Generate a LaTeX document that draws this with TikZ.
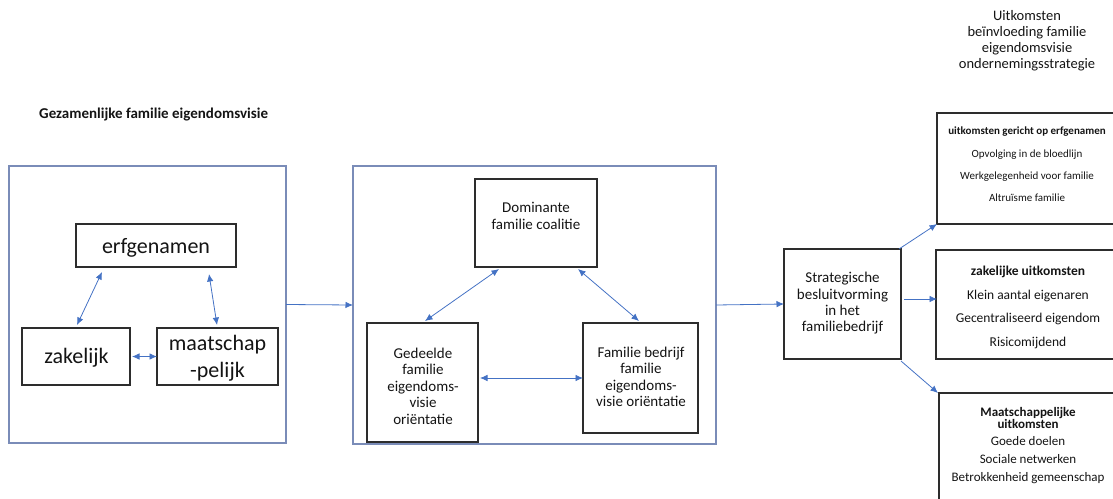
\documentclass[tikz,border=0pt]{standalone}
\usepackage{fontspec}
\setmainfont{Carlito}
\usetikzlibrary{calc,arrows.meta}
\definecolor{frameblue}{RGB}{122,140,184}
\definecolor{arrowblue}{RGB}{68,114,196}
\definecolor{boxline}{RGB}{45,45,45}
\definecolor{ink}{RGB}{20,20,20}
\tikzset{
  frame/.style={draw=frameblue, line width=1.3pt, inner sep=0pt, outer sep=0pt, anchor=north west},
  box/.style={draw=boxline, line width=1.1pt, inner sep=0pt, outer sep=0pt, anchor=north west},
  txt/.style={text=ink, inner sep=0pt, align=center},
  link/.style={draw=arrowblue, line width=0.8pt, -{Latex[length=7.5pt,width=6.5pt]}},
  twoway/.style={draw=arrowblue, line width=0.8pt, {Latex[length=7.5pt,width=6.5pt]}-{Latex[length=7.5pt,width=6.5pt]}},
}
\newcommand{\fs}[2]{\fontsize{#1}{#2}\selectfont}
\begin{document}
\begin{tikzpicture}[x=1pt,y=-1pt]
\useasboundingbox (0,0) rectangle (1113,498);
\clip (0,0) rectangle (1113,498);

% headings
\node[txt, font=\fs{14.5}{16}] (title) at (1027,41)
  {Uitkomsten\\beïnvloeding familie\\eigendomsvisie\\ondernemingsstrategie};
\node[txt, anchor=west, font=\bfseries\fs{15}{18}] (heading) at (39,115)
  {Gezamenlijke familie eigendomsvisie};

% left frame: joint family ownership vision
\node[frame, minimum width=277pt, minimum height=277pt] (lf) at (9,166) {};
\node[box, minimum width=160pt, minimum height=43pt] (erf) at (76,224) {};
\node[box, minimum width=108pt, minimum height=57pt] (zak) at (22,328) {};
\node[box, minimum width=121pt, minimum height=57pt] (maat) at (157,328) {};
\node[txt, font=\fs{22}{27}] (erft) at (156,248) {erfgenamen};
\node[txt, font=\fs{22}{27}] (zakt) at (76.5,358) {zakelijk};
\node[txt, font=\fs{22}{27}] (maatt) at (217.5,358.5) {maatschap\\-pelijk};

\draw[twoway] ($(erf.south west)+(26,5)$) -- ($(zak.north west)+(55,-3)$);
\draw[twoway] ($(erf.south west)+(133,7)$) -- ($(maat.north west)+(60,-3)$);
\draw[twoway] ($(zak.east)+(2,0)$) -- (maat.west);

% middle frame: orientations
\node[frame, minimum width=363pt, minimum height=278pt] (mf) at (353,166) {};
\node[box, minimum width=122pt, minimum height=88pt] (dom) at (475,179) {};
\node[box, minimum width=111pt, minimum height=119pt] (ged) at (367,323) {};
\node[box, minimum width=115pt, minimum height=110pt] (fam) at (583,323) {};
\node[txt, font=\fs{15}{16.5}] (domt) at (536,216) {Dominante\\familie coalitie};
\node[txt, font=\fs{15}{16.5}] (gedt) at (423,386) {Gedeelde\\familie\\eigendoms-\\visie\\oriëntatie};
\node[txt, font=\fs{15}{16.5}] (famt) at (641,377) {Familie bedrijf\\familie\\eigendoms-\\visie oriëntatie};

\draw[twoway] ($(dom.south west)+(24,2)$) -- ($(ged.north west)+(58,-2)$);
\draw[twoway] ($(dom.south east)+(-19,2)$) -- ($(fam.north west)+(56,-2)$);
\draw[twoway] ($(ged.east |- fam.west)+(2,0)$) -- (fam.west);

% decision making
\node[box, minimum width=117pt, minimum height=110pt] (strat) at (784,249) {};
\node[txt, font=\fs{15}{16.3}] (stratt) at (842.5,303.5) {Strategische\\besluitvorming\\in het\\familiebedrijf};

\draw[link] (lf.east) -- (mf.west);
\draw[link] (mf.east) -- (strat.west);

% outcomes
\node[box, minimum width=183pt, minimum height=111pt] (r1) at (937,113) {};
\node[box, minimum width=183pt, minimum height=109pt] (r2) at (936,250) {};
\node[box, minimum width=183pt, minimum height=130pt] (r3) at (939,393) {};

\node[txt, font=\fs{11}{22.3}] (r1t) at (1027,164.5)
  {\textbf{uitkomsten gericht op erfgenamen}\\Opvolging in de bloedlijn\\Werkgelegenheid voor familie\\Altruïsme familie};
\node[txt, font=\fs{13.5}{23.7}] (r2t) at (1028,307.5)
  {\textbf{zakelijke uitkomsten}\\Klein aantal eigenaren\\Gecentraliseerd eigendom\\Risicomijdend};
\node[txt, font=\bfseries\fs{13}{10}] (r3h) at (1028,418)
  {Maatschappelijke\\uitkomsten};
\node[txt, font=\fs{13}{18}] (r3t) at (1028,460)
  {Goede doelen\\Sociale netwerken\\Betrokkenheid gemeenschap};

\draw[link] ($(strat.north east)+(-2,0)$) -- (r1.south west);
\draw[link] ($(strat.east)+(3,-5)$) -- ($(r2.west)+(1,-5.5)$);
\draw[link] ($(strat.south east)+(0,2)$) -- ($(r3.north west)+(-1,0)$);
\end{tikzpicture}
\end{document}
